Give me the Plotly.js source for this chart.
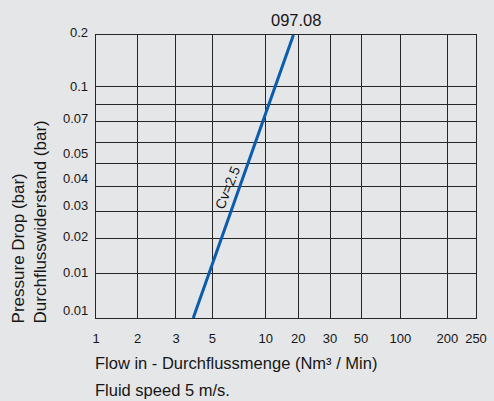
<!DOCTYPE html>
<html>
<head>
<meta charset="utf-8">
<script src="https://cdn.plot.ly/plotly-3.0.1.min.js"></script>
<style>html,body{margin:0;padding:0;background:#e5e6e8;}#chart{width:494px;height:401px;}</style>
</head>
<body>
<div id="chart"></div>
<script>
// ---- data ----
const flowTickVals = [1, 2, 3, 5, 10, 20, 30, 50, 100, 200, 250];
const flowTickLabels = ['1', '2', '3', '5', '10', '20', '30', '50', '100', '200', '250'];
const pressureGridVals = [0.01, 0.01, 0.02, 0.03, 0.04, 0.05, 0.06, 0.07, 0.08, 0.1, 0.2];
const pressureTickLabels = ['0.01', '0.01', '0.02', '0.03', '0.04', '0.05', '0.07', '0.1', '0.2'];
const flow = [3.95, 18.5];
const pressure = [0.01, 0.2];
const curveLabel = 'Cv=2.5';
const chartTitle = '097.08';
const xTitle = 'Flow in - Durchflussmenge (Nm³ / Min)';
const note = 'Fluid speed 5 m/s.';
const yTitleLines = ['Pressure Drop (bar)', 'Durchflusswiderstand (bar)'];

// ---- the chart's own (non-uniform) scales, as axis fractions ----
const xGridPos = [0, 0.1097, 0.2105, 0.306, 0.4466, 0.5324, 0.6158, 0.6974, 0.8008, 0.9245, 1];
const yGridPos = [0, 0.1569, 0.2806, 0.3781, 0.4643, 0.5477, 0.6219, 0.694, 0.7551, 0.8163, 1];
const yLabelPos = [0.0272, 0.1615, 0.2887, 0.3982, 0.4926, 0.5809, 0.7046, 0.8187, 1.0106];

function scale(v, vals, pos) {
  for (let i = 0; i < vals.length; i++) {
    if (vals[i] >= v) {
      if (i === 0 || vals[i] === vals[i - 1]) return pos[i];
      const t = (v - vals[i - 1]) / (vals[i] - vals[i - 1]);
      return pos[i - 1] + t * (pos[i] - pos[i - 1]);
    }
  }
  return pos[pos.length - 1];
}

const FONT = 'Liberation Sans, Arial, sans-serif';
const TXT = '#161616';
const GRID = '#262626';

const trace = {
  x: flow.map(v => scale(v, flowTickVals, xGridPos)),
  y: pressure.map(v => scale(v, pressureGridVals, yGridPos)),
  mode: 'lines',
  line: {color: '#0b5cad', width: 3},
  hoverinfo: 'skip',
  cliponaxis: false
};

const annotations = [];
pressureTickLabels.forEach((t, i) => {
  annotations.push({
    xref: 'paper', yref: 'paper', x: 0, y: yLabelPos[i], text: t,
    xanchor: 'right', yanchor: 'middle', xshift: -6, showarrow: false,
    font: {family: FONT, size: 13, color: TXT}
  });
});
annotations.push({
  xref: 'paper', yref: 'paper', x: 0.526, y: 1.052, text: chartTitle,
  xanchor: 'center', yanchor: 'middle', showarrow: false,
  font: {family: FONT, size: 16.5, color: TXT}
});
annotations.push({
  xref: 'paper', yref: 'paper', x: 0.347, y: 0.462, text: curveLabel, textangle: -68,
  xanchor: 'center', yanchor: 'middle', showarrow: false,
  font: {family: FONT, size: 14, color: TXT}
});
annotations.push({
  xref: 'paper', yref: 'paper', x: -0.0026, y: -0.160, text: xTitle,
  xanchor: 'left', yanchor: 'middle', xshift: -2, showarrow: false,
  font: {family: FONT, size: 16.5, color: TXT}
});
annotations.push({
  xref: 'paper', yref: 'paper', x: -0.0026, y: -0.2555, text: note,
  xanchor: 'left', yanchor: 'middle', xshift: -2, showarrow: false,
  font: {family: FONT, size: 16.5, color: TXT}
});
annotations.push({
  xref: 'paper', yref: 'paper', x: -0.1763, y: -0.028, text: yTitleLines.join('<br>'),
  textangle: -90, align: 'left',
  xanchor: 'center', yanchor: 'bottom', showarrow: false,
  font: {family: FONT, size: 17, color: TXT}
});

const layout = {
  width: 494, height: 401,
  margin: {l: 96, r: 18, t: 35, b: 83, pad: 0},
  paper_bgcolor: '#e5e6e8', plot_bgcolor: '#e5e6e8',
  showlegend: false,
  font: {family: FONT, size: 13, color: TXT},
  xaxis: {
    range: [0, 1], tickmode: 'array', tickvals: xGridPos, ticktext: flowTickLabels,
    showgrid: true, gridcolor: GRID, gridwidth: 1, zeroline: false,
    showline: true, mirror: true, linecolor: GRID, linewidth: 1.2,
    ticks: 'outside', ticklen: 8, tickcolor: 'rgba(0,0,0,0)',
    tickfont: {family: FONT, size: 13, color: TXT}, fixedrange: true
  },
  yaxis: {
    range: [0, 1], tickmode: 'array', tickvals: yGridPos, showticklabels: false,
    showgrid: true, gridcolor: GRID, gridwidth: 1, zeroline: false,
    showline: true, mirror: true, linecolor: GRID, linewidth: 1.2,
    ticks: '', fixedrange: true
  },
  annotations: annotations
};

Plotly.newPlot('chart', [trace], layout, {displayModeBar: false, staticPlot: true});
</script>
</body>
</html>
